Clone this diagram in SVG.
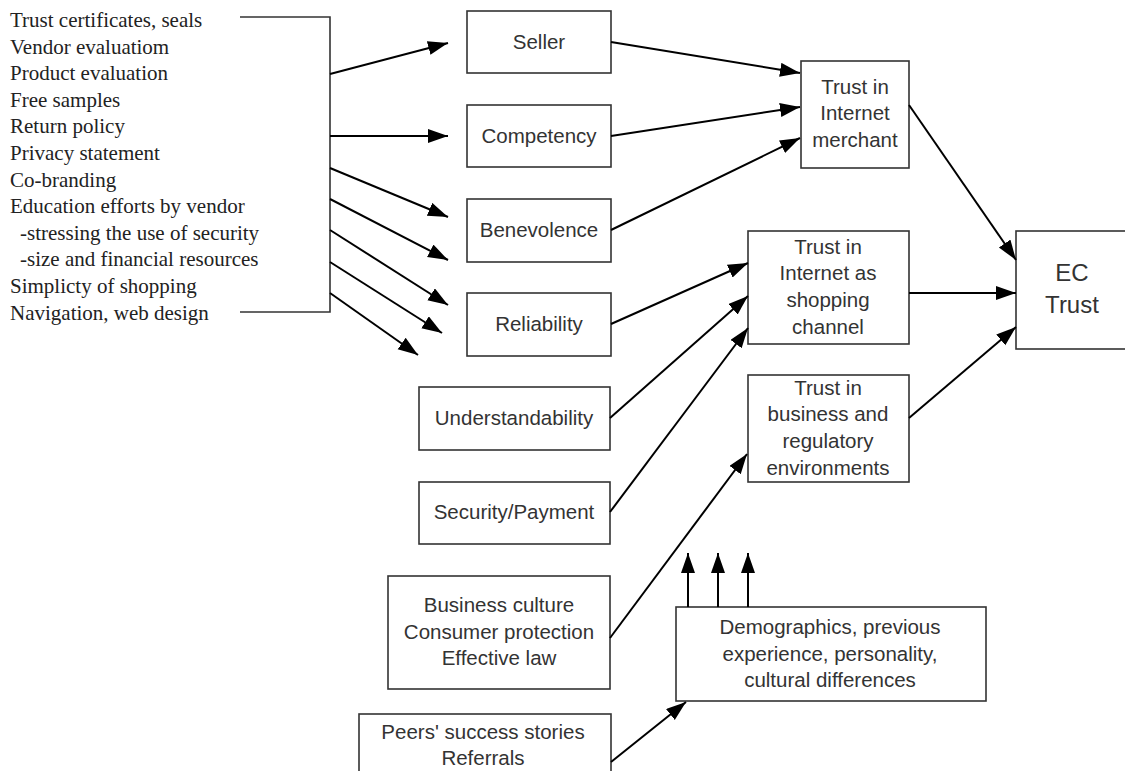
<svg xmlns="http://www.w3.org/2000/svg" width="1125" height="771" viewBox="0 0 1125 771">
<style>
.box{fill:#fff;stroke:#333;stroke-width:1.6}
.t{font-family:"Liberation Sans",Arial,sans-serif;font-size:20.5px;fill:#333;text-anchor:middle}
.big{font-size:24px}
.lt{font-family:"Liberation Serif","Times New Roman",serif;font-size:21px;fill:#222}
.c{fill:none;stroke:#000;stroke-width:2}
.br{fill:none;stroke:#333;stroke-width:1.6}
</style>
<defs>
<marker id="ah" markerUnits="userSpaceOnUse" markerWidth="22" markerHeight="16" refX="20" refY="7" orient="auto">
<path d="M0,0 L20,7 L0,14 z" fill="#000"/>
</marker>
</defs>
<rect width="1125" height="771" fill="#fff"/>
<g id="factors">
<text class="lt" x="10" y="27">Trust certificates, seals</text>
<text class="lt" x="10" y="53.6">Vendor evaluatiom</text>
<text class="lt" x="10" y="80.2">Product evaluation</text>
<text class="lt" x="10" y="106.8">Free samples</text>
<text class="lt" x="10" y="133.4">Return policy</text>
<text class="lt" x="10" y="160">Privacy statement</text>
<text class="lt" x="10" y="186.6">Co-branding</text>
<text class="lt" x="10" y="213.2">Education efforts by vendor</text>
<text class="lt" x="20" y="239.8">-stressing the use of security</text>
<text class="lt" x="20" y="266.4">-size and financial resources</text>
<text class="lt" x="10" y="293">Simplicty of shopping</text>
<text class="lt" x="10" y="319.6">Navigation, web design</text>
</g>
<g id="seller"><rect class="box" x="467" y="11" width="144" height="62"/><text class="t" x="539" y="49">Seller</text></g>
<g id="competency"><rect class="box" x="467" y="105" width="144" height="62"/><text class="t" x="539" y="143">Competency</text></g>
<g id="benevolence"><rect class="box" x="467" y="199" width="144" height="63"/><text class="t" x="539" y="237">Benevolence</text></g>
<g id="reliability"><rect class="box" x="467" y="293" width="144" height="63"/><text class="t" x="539" y="331">Reliability</text></g>
<g id="understandability"><rect class="box" x="419" y="387" width="191" height="63"/><text class="t" x="514" y="425">Understandability</text></g>
<g id="security"><rect class="box" x="419" y="482" width="191" height="62"/><text class="t" x="514" y="519">Security/Payment</text></g>
<g id="business-culture"><rect class="box" x="388" y="576" width="222" height="113"/>
<text class="t" x="499" y="612">Business culture</text><text class="t" x="499" y="639">Consumer protection</text><text class="t" x="499" y="665">Effective law</text></g>
<g id="peers"><rect class="box" x="359" y="714" width="252" height="70"/>
<text class="t" x="483" y="739">Peers' success stories</text><text class="t" x="483" y="765">Referrals</text></g>
<g id="trust-merchant"><rect class="box" x="801" y="61" width="108" height="107"/>
<text class="t" x="855" y="94">Trust in</text><text class="t" x="855" y="120">Internet</text><text class="t" x="855" y="147">merchant</text></g>
<g id="trust-channel"><rect class="box" x="748" y="231" width="161" height="113"/>
<text class="t" x="828" y="254">Trust in</text><text class="t" x="828" y="280">Internet as</text><text class="t" x="828" y="307">shopping</text><text class="t" x="828" y="334">channel</text></g>
<g id="trust-environment"><rect class="box" x="748" y="375" width="161" height="107"/>
<text class="t" x="828" y="395">Trust in</text><text class="t" x="828" y="421">business and</text><text class="t" x="828" y="448">regulatory</text><text class="t" x="828" y="475">environments</text></g>
<g id="ec-trust"><rect class="box" x="1016" y="231" width="120" height="118"/>
<text class="t big" x="1072" y="281">EC</text><text class="t big" x="1072" y="313">Trust</text></g>
<g id="demographics"><rect class="box" x="676" y="607" width="310" height="94"/>
<text class="t" x="830" y="634">Demographics, previous</text><text class="t" x="830" y="661">experience, personality,</text><text class="t" x="830" y="687">cultural differences</text></g>
<g id="connectors">
<polyline class="br" points="240,17 330,17 330,312 240,312"/>
<line class="c" x1="330" y1="74" x2="448" y2="43" marker-end="url(#ah)"/>
<line class="c" x1="330" y1="136" x2="448" y2="136" marker-end="url(#ah)"/>
<line class="c" x1="330" y1="168" x2="448" y2="217" marker-end="url(#ah)"/>
<line class="c" x1="330" y1="199" x2="448" y2="260" marker-end="url(#ah)"/>
<line class="c" x1="330" y1="230" x2="448" y2="305" marker-end="url(#ah)"/>
<line class="c" x1="330" y1="262" x2="442" y2="333" marker-end="url(#ah)"/>
<line class="c" x1="330" y1="293" x2="418" y2="355" marker-end="url(#ah)"/>
<line class="c" x1="611" y1="42" x2="800" y2="73" marker-end="url(#ah)"/>
<line class="c" x1="611" y1="136" x2="800" y2="107" marker-end="url(#ah)"/>
<line class="c" x1="611" y1="230" x2="800" y2="138" marker-end="url(#ah)"/>
<line class="c" x1="909" y1="105" x2="1016" y2="260" marker-end="url(#ah)"/>
<line class="c" x1="611" y1="324" x2="748" y2="263" marker-end="url(#ah)"/>
<line class="c" x1="610" y1="418" x2="748" y2="296" marker-end="url(#ah)"/>
<line class="c" x1="610" y1="512" x2="748" y2="328" marker-end="url(#ah)"/>
<line class="c" x1="909" y1="293" x2="1016" y2="293" marker-end="url(#ah)"/>
<line class="c" x1="909" y1="418" x2="1016" y2="327" marker-end="url(#ah)"/>
<line class="c" x1="610" y1="638" x2="747" y2="454" marker-end="url(#ah)"/>
<line class="c" x1="688" y1="607" x2="688" y2="553" marker-end="url(#ah)"/>
<line class="c" x1="718" y1="607" x2="718" y2="553" marker-end="url(#ah)"/>
<line class="c" x1="748" y1="607" x2="748" y2="553" marker-end="url(#ah)"/>
<line class="c" x1="611" y1="762" x2="686" y2="702" marker-end="url(#ah)"/>
</g>
</svg>
